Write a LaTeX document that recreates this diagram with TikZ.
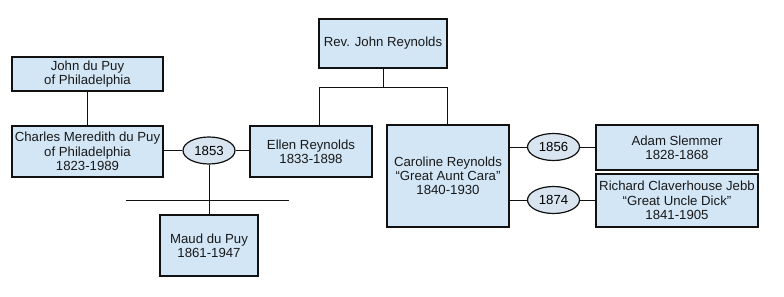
\documentclass[tikz,border=0pt]{standalone}
\usepackage{fontspec}
\setmainfont{Liberation Sans}
\usepackage{tikz}
\usetikzlibrary{positioning,shapes.geometric}
\definecolor{cbox}{HTML}{D3E6F5}
\definecolor{cring}{HTML}{D8E5F0}
\definecolor{cline}{HTML}{111111}
\tikzset{
  person/.style={draw=cline, line width=0.9pt, fill=cbox, align=center, inner sep=1pt,
    font=\fontsize{9.9}{10.7}\selectfont, text=black!90},
  wed/.style={ellipse, draw=cline, line width=0.9pt, fill=cring, inner sep=0pt,
    minimum width=52*0.75pt, minimum height=27*0.75pt, font=\fontsize{9.9}{10.7}\selectfont},
  tie/.style={draw=cline, line width=0.75pt},
}
\begin{document}
\begin{tikzpicture}[x=0.75pt,y=-0.75pt]
\useasboundingbox[fill=white] (0,0) rectangle (784,296);
% du Puy side
\node[person, minimum width=151*0.75pt, minimum height=34*0.75pt] (john) at (87.5,74) {John du Puy\\of Philadelphia};
\node[person, minimum width=151*0.75pt, minimum height=51*0.75pt] (charles) at (87.5,151.5) {Charles Meredith du Puy\\of Philadelphia\\1823-1989};
\node[wed] (m1853) at (209,150.5) {1853};
\node[person, minimum width=98*0.75pt, minimum height=61*0.75pt] (maud) at (209,245.5) {Maud du Puy\\1861-1947};
% Reynolds side
\node[person, minimum width=128*0.75pt, minimum height=49*0.75pt] (rev) at (383,43.5) {Rev. John Reynolds};
\node[person, minimum width=122*0.75pt, minimum height=51*0.75pt] (ellen) at (311,151.5) {Ellen Reynolds\\1833-1898};
\node[person, minimum width=122*0.75pt, minimum height=102*0.75pt] (caroline) at (448,176) {Caroline Reynolds\\“Great Aunt Cara”\\1840-1930};
\node[wed] (m1856) at (553.5,147) {1856};
\node[wed] (m1874) at (553.5,200) {1874};
\node[person, minimum width=162*0.75pt, minimum height=45*0.75pt] (adam) at (677,147.5) {Adam Slemmer\\1828-1868};
\node[person, minimum width=162*0.75pt, minimum height=53*0.75pt] (richard) at (677,200.5) {Richard Claverhouse Jebb\\“Great Uncle Dick”\\1841-1905};
\coordinate (kidL) at (319,87);
\coordinate (kidR) at (447,87);
\coordinate (sibL) at (126,200);
\coordinate (sibR) at (289,200);
% lines
\draw[tie] (john) -- (charles);
\draw[tie] (charles.east |- m1853) -- (m1853) -- (ellen.west |- m1853);
\draw[tie] (m1853) -- (maud);
\draw[tie] (sibL) -- (sibR);
\draw[tie] (rev) -- (rev.south |- kidL);
\draw[tie] (ellen.north -| kidL) -- (kidL) -- (kidR) -- (caroline.north -| kidR);
\draw[tie] (caroline.east |- m1856) -- (m1856) -- (adam.west |- m1856);
\draw[tie] (caroline.east |- m1874) -- (m1874) -- (richard.west |- m1874);
\end{tikzpicture}
\end{document}
